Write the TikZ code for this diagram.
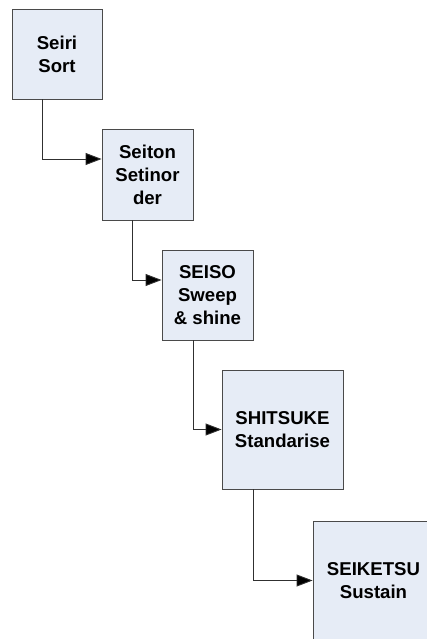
\documentclass[tikz,border=0pt]{standalone}
\usepackage{fontspec}
\setmainfont{Liberation Sans}
\usetikzlibrary{arrows.meta}
\definecolor{boxfill}{HTML}{E6ECF6}
\definecolor{boxline}{HTML}{4A4A4A}
\definecolor{conline}{HTML}{303030}
\begin{document}
\begin{tikzpicture}[x=1pt,y=-1pt,
  stagebox/.style={draw=boxline,fill=boxfill,line width=0.9pt,inner sep=0pt,
    align=center,font=\fontsize{18.6}{23}\selectfont\bfseries},
  conn/.style={draw=conline,line width=0.9pt,-{Triangle[length=16pt,width=12pt,fill=black]}}]
\useasboundingbox (0,0) rectangle (427,639);
\clip (0,0) rectangle (427,639);
\node[stagebox,minimum width=90pt,minimum height=90pt] (b1) at (57,54) {Seiri\\Sort};
\node[stagebox,minimum width=91pt,minimum height=91pt] (b2) at (147.5,174.5) {Seiton\\Setinor\\der};
\node[stagebox,minimum width=91pt,minimum height=90pt] (b3) at (207.5,295) {SEISO\\Sweep\\\& shine};
\node[stagebox,minimum width=121pt,minimum height=119pt] (b4) at (282.5,429.5) {SHITSUKE\\Standarise};
\node[stagebox,minimum width=121pt,minimum height=119pt] (b5) at (373.5,580.5) {SEIKETSU\\Sustain};
\draw[conn] ([xshift=-15pt]b1.south) |- ([yshift=15.5pt]b2.west);
\draw[conn] ([xshift=-15.5pt]b2.south) |- ([yshift=15pt]b3.west);
\draw[conn] ([xshift=-14.5pt]b3.south) |- (b4.west);
\draw[conn] ([xshift=-29.5pt]b4.south) |- (b5.west);
\end{tikzpicture}
\end{document}
